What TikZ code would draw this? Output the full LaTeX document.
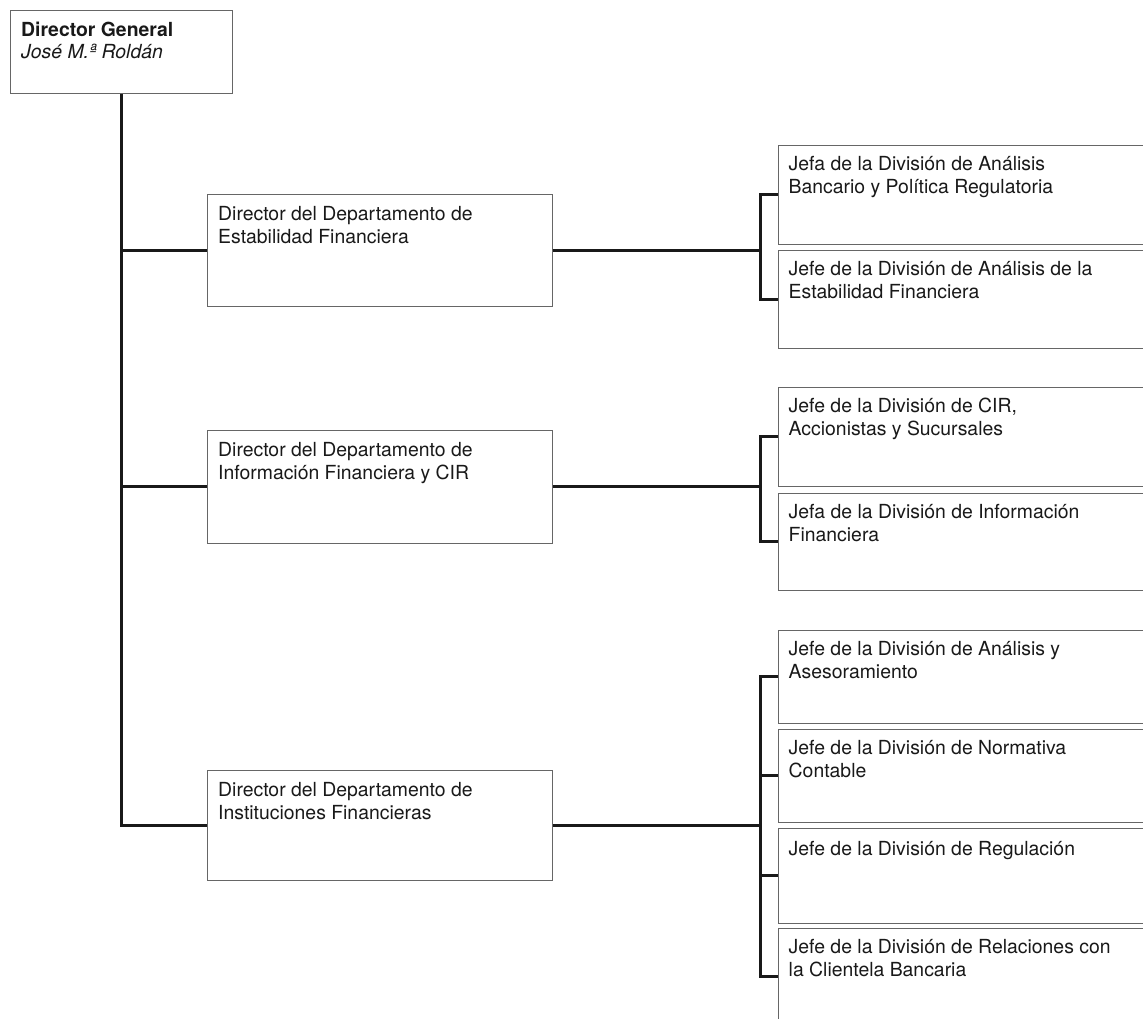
\documentclass[tikz,border=0pt]{standalone}
\usepackage{fontspec}
\setmainfont{TeX Gyre Heros}
\usetikzlibrary{positioning}
\begin{document}
\begin{tikzpicture}[x=1pt, y=-1pt,
  box/.style = {draw=black!60, line width=0.9pt, anchor=north west, inner sep=0pt},
  txt/.style = {anchor=north west, align=left, inner sep=0pt, text=black!90,
                font=\fontsize{19.4pt}{22.8pt}\selectfont,
                execute at begin node={\rule{0pt}{16pt}}},
  link/.style = {line width=3pt, black!90}]
\clip (0,0) rectangle (1143,1019);
\fill[white] (0,0) rectangle (1143,1019);

% director general
\node[box, minimum width=222, minimum height=83] (dg) at (10,10) {};
\node[txt, below right = 11.5pt and 11pt of dg.north west, anchor=north west]
  {\bfseries Director General\\\itshape José M.ª Roldán};

% departamentos
\node[box, minimum width=345, minimum height=112] (d1) at (207,194) {};
\node[box, minimum width=345, minimum height=113] (d2) at (207,430) {};
\node[box, minimum width=345, minimum height=110] (d3) at (207,770) {};
\node[txt, below right = 12pt and 11pt of d1.north west, anchor=north west]
  {Director del Departamento de\\Estabilidad Financiera};
\node[txt, below right = 12pt and 11pt of d2.north west, anchor=north west]
  {Director del Departamento de\\Información Financiera y CIR};
\node[txt, below right = 12pt and 11pt of d3.north west, anchor=north west]
  {Director del Departamento de\\Instituciones Financieras};

% divisiones
\node[box, minimum width=420, minimum height=99] (a1) at (778,145) {};
\node[box, minimum width=420, minimum height=98] (a2) at (778,250) {};
\node[box, minimum width=420, minimum height=99] (b1) at (778,387) {};
\node[box, minimum width=420, minimum height=97] (b2) at (778,493) {};
\node[box, minimum width=420, minimum height=93] (c1) at (778,630) {};
\node[box, minimum width=420, minimum height=93] (c2) at (778,729) {};
\node[box, minimum width=420, minimum height=95] (c3) at (778,828) {};
\node[box, minimum width=420, minimum height=97] (c4) at (778,928) {};

\node[txt, below right = 11pt and 10.5pt of a1.north west, anchor=north west]
  {Jefa de la División de Análisis\\Bancario y Política Regulatoria};
\node[txt, below right = 11pt and 10.5pt of a2.north west, anchor=north west]
  {Jefe de la División de Análisis de la\\Estabilidad Financiera};
\node[txt, below right = 11pt and 10.5pt of b1.north west, anchor=north west]
  {Jefe de la División de CIR,\\Accionistas y Sucursales};
\node[txt, below right = 11pt and 10.5pt of b2.north west, anchor=north west]
  {Jefa de la División de Información\\Financiera};
\node[txt, below right = 11pt and 10.5pt of c1.north west, anchor=north west]
  {Jefe de la División de Análisis y\\Asesoramiento};
\node[txt, below right = 11pt and 10.5pt of c2.north west, anchor=north west]
  {Jefe de la División de Normativa\\Contable};
\node[txt, below right = 11pt and 10.5pt of c3.north west, anchor=north west]
  {Jefe de la División de Regulación};
\node[txt, below right = 11pt and 10.5pt of c4.north west, anchor=north west]
  {Jefe de la División de Relaciones con\\la Clientela Bancaria};

% tronco
\draw[link] (dg.south) |- (d3.west);
\draw[link] (dg.south |- d1.west) -- (d1.west);
\draw[link] (dg.south |- d2.west) -- (d2.west);

% llaves a la derecha
\coordinate (ja) at ([xshift=-18pt]a1.west);
\draw[link] (a1.west) -- (ja) |- (a2.west);
\draw[link] (d1.east) -- (d1.east -| ja);

\coordinate (jb) at ([xshift=-18pt]b1.west);
\draw[link] (b1.west) -- (jb) |- (b2.west);
\draw[link] (d2.east) -- (d2.east -| jb);

\coordinate (jc) at ([xshift=-18pt]c1.west);
\draw[link] (c1.west) -- (jc) |- (c4.west);
\draw[link] (c2.west) -- (c2.west -| jc);
\draw[link] (c3.west) -- (c3.west -| jc);
\draw[link] (d3.east) -- (d3.east -| jc);
\end{tikzpicture}
\end{document}
